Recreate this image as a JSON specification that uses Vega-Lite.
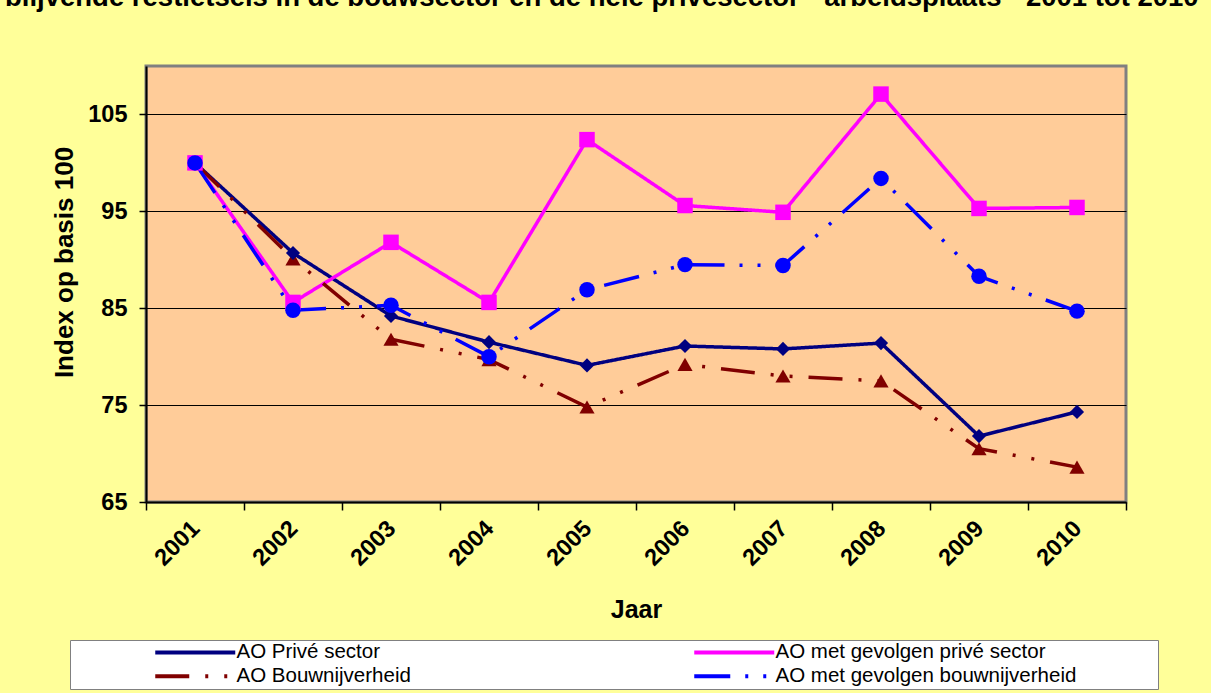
{
  "$schema": "https://vega.github.io/schema/vega-lite/v6.json",
  "autosize": "none",
  "width": 980,
  "height": 436,
  "padding": {"top": 66, "left": 146, "right": 85, "bottom": 191},
  "background": "#FFFF99",
  "title": {
    "text": "blijvende restletsels in de bouwsector en de hele privésector - arbeidsplaats - 2001 tot 2010",
    "anchor": "start",
    "frame": "group",
    "dx": -141,
    "offset": 55,
    "font": "Liberation Sans",
    "fontSize": 27.5,
    "fontWeight": "bold",
    "color": "#000000"
  },
  "config": {
    "view": {"fill": "#FFCC99", "stroke": "#808080", "strokeWidth": 3},
    "font": "Liberation Sans",
    "axis": {
      "domainColor": "#000000",
      "domainWidth": 2,
      "tickColor": "#000000",
      "tickWidth": 1.5,
      "labelColor": "#000000",
      "titleColor": "#000000",
      "labelFont": "Liberation Sans",
      "titleFont": "Liberation Sans",
      "labelFontWeight": "bold",
      "titleFontWeight": "bold"
    }
  },
  "data": {
    "values": [
      {"jaar": "2001", "reeks": "AO Privé sector", "waarde": 100},
      {"jaar": "2002", "reeks": "AO Privé sector", "waarde": 90.7},
      {"jaar": "2003", "reeks": "AO Privé sector", "waarde": 84.2},
      {"jaar": "2004", "reeks": "AO Privé sector", "waarde": 81.5},
      {"jaar": "2005", "reeks": "AO Privé sector", "waarde": 79.1},
      {"jaar": "2006", "reeks": "AO Privé sector", "waarde": 81.1},
      {"jaar": "2007", "reeks": "AO Privé sector", "waarde": 80.8},
      {"jaar": "2008", "reeks": "AO Privé sector", "waarde": 81.4},
      {"jaar": "2009", "reeks": "AO Privé sector", "waarde": 71.8},
      {"jaar": "2010", "reeks": "AO Privé sector", "waarde": 74.3},
      {"jaar": "2001", "reeks": "AO met gevolgen privé sector", "waarde": 100},
      {"jaar": "2002", "reeks": "AO met gevolgen privé sector", "waarde": 85.6},
      {"jaar": "2003", "reeks": "AO met gevolgen privé sector", "waarde": 91.8},
      {"jaar": "2004", "reeks": "AO met gevolgen privé sector", "waarde": 85.6},
      {"jaar": "2005", "reeks": "AO met gevolgen privé sector", "waarde": 102.4},
      {"jaar": "2006", "reeks": "AO met gevolgen privé sector", "waarde": 95.6},
      {"jaar": "2007", "reeks": "AO met gevolgen privé sector", "waarde": 94.9},
      {"jaar": "2008", "reeks": "AO met gevolgen privé sector", "waarde": 107.1},
      {"jaar": "2009", "reeks": "AO met gevolgen privé sector", "waarde": 95.3},
      {"jaar": "2010", "reeks": "AO met gevolgen privé sector", "waarde": 95.4},
      {"jaar": "2001", "reeks": "AO Bouwnijverheid", "waarde": 100},
      {"jaar": "2002", "reeks": "AO Bouwnijverheid", "waarde": 90.1},
      {"jaar": "2003", "reeks": "AO Bouwnijverheid", "waarde": 81.8},
      {"jaar": "2004", "reeks": "AO Bouwnijverheid", "waarde": 79.7},
      {"jaar": "2005", "reeks": "AO Bouwnijverheid", "waarde": 74.8},
      {"jaar": "2006", "reeks": "AO Bouwnijverheid", "waarde": 79.2},
      {"jaar": "2007", "reeks": "AO Bouwnijverheid", "waarde": 78.0},
      {"jaar": "2008", "reeks": "AO Bouwnijverheid", "waarde": 77.5},
      {"jaar": "2009", "reeks": "AO Bouwnijverheid", "waarde": 70.5},
      {"jaar": "2010", "reeks": "AO Bouwnijverheid", "waarde": 68.6},
      {"jaar": "2001", "reeks": "AO met gevolgen bouwnijverheid", "waarde": 100},
      {"jaar": "2002", "reeks": "AO met gevolgen bouwnijverheid", "waarde": 84.8},
      {"jaar": "2003", "reeks": "AO met gevolgen bouwnijverheid", "waarde": 85.3},
      {"jaar": "2004", "reeks": "AO met gevolgen bouwnijverheid", "waarde": 80.0},
      {"jaar": "2005", "reeks": "AO met gevolgen bouwnijverheid", "waarde": 86.9},
      {"jaar": "2006", "reeks": "AO met gevolgen bouwnijverheid", "waarde": 89.5},
      {"jaar": "2007", "reeks": "AO met gevolgen bouwnijverheid", "waarde": 89.4},
      {"jaar": "2008", "reeks": "AO met gevolgen bouwnijverheid", "waarde": 98.4},
      {"jaar": "2009", "reeks": "AO met gevolgen bouwnijverheid", "waarde": 88.3},
      {"jaar": "2010", "reeks": "AO met gevolgen bouwnijverheid", "waarde": 84.7}
    ]
  },
  "encoding": {
    "x": {
      "field": "jaar",
      "type": "ordinal",
      "scale": {"paddingInner": 0, "paddingOuter": 0},
      "axis": {
        "title": "Jaar",
        "titleFontSize": 25,
        "titlePadding": 28,
        "labelFontSize": 23.5,
        "labelAngle": -45,
        "labelPadding": 6,
        "labelOffset": -8,
        "tickBand": "extent",
        "tickSize": 8,
        "grid": false
      }
    },
    "y": {
      "field": "waarde",
      "type": "quantitative",
      "scale": {"domain": [65, 110], "nice": false, "zero": false},
      "axis": {
        "title": "Index op basis 100",
        "titleFontSize": 26,
        "titlePadding": 10,
        "titleY": 196,
        "labelFontSize": 23.5,
        "labelPadding": 12,
        "tickSize": 7,
        "values": [65, 75, 85, 95, 105],
        "grid": true,
        "gridColor": "#000000",
        "gridWidth": 1.2,
        "gridOpacity": 1
      }
    }
  },
  "layer": [
    {
      "mark": {"type": "line", "strokeWidth": 3.5},
      "encoding": {
        "color": {
          "field": "reeks",
          "type": "nominal",
          "scale": {
            "domain": ["AO Privé sector", "AO met gevolgen privé sector", "AO Bouwnijverheid", "AO met gevolgen bouwnijverheid"],
            "range": ["#000080", "#FF00FF", "#800000", "#0000FF"]
          },
          "legend": {
            "title": " ",
            "titleOrient": "right",
            "titlePadding": 80,
            "orient": "none",
            "direction": "horizontal",
            "legendX": -76,
            "legendY": 574,
            "columns": 2,
            "columnPadding": 200,
            "rowPadding": 3,
            "padding": 2,
            "fillColor": "#FFFFFF",
            "strokeColor": "#808080",
            "labelFont": "Liberation Sans",
            "labelFontSize": 20.5,
            "labelColor": "#000000",
            "labelLimit": 500,
            "symbolType": "M-8,0H8",
            "symbolSize": 100,
            "symbolStrokeWidth": 4,
            "symbolOffset": 113,
            "labelOffset": 31
          }
        },
        "strokeDash": {
          "field": "reeks",
          "type": "nominal",
          "scale": {
            "domain": ["AO Privé sector", "AO met gevolgen privé sector", "AO Bouwnijverheid", "AO met gevolgen bouwnijverheid"],
            "range": [[1, 0], [1, 0], [34, 16, 3, 16, 3, 16], [36, 15, 3, 15, 3, 15]]
          },
          "legend": {
            "title": " ",
            "titleOrient": "right",
            "titlePadding": 80,
            "orient": "none",
            "direction": "horizontal",
            "legendX": -76,
            "legendY": 574,
            "columns": 2,
            "columnPadding": 200,
            "rowPadding": 3,
            "padding": 2,
            "fillColor": "#FFFFFF",
            "strokeColor": "#808080",
            "labelFont": "Liberation Sans",
            "labelFontSize": 20.5,
            "labelColor": "#000000",
            "labelLimit": 500,
            "symbolType": "M-8,0H8",
            "symbolSize": 100,
            "symbolStrokeWidth": 4,
            "symbolOffset": 113,
            "labelOffset": 31
          }
        }
      }
    },
    {
      "transform": [{"filter": "datum.reeks == 'AO Bouwnijverheid'"}],
      "mark": {"type": "point", "filled": true, "opacity": 1, "strokeWidth": 0, "shape": "triangle-up", "size": 230, "color": "#800000"}
    },
    {
      "transform": [{"filter": "datum.reeks == 'AO Privé sector'"}],
      "mark": {"type": "point", "filled": true, "opacity": 1, "strokeWidth": 0, "shape": "diamond", "size": 200, "color": "#000080"}
    },
    {
      "transform": [{"filter": "datum.reeks == 'AO met gevolgen privé sector'"}],
      "mark": {"type": "point", "filled": true, "opacity": 1, "strokeWidth": 0, "shape": "square", "size": 240, "color": "#FF00FF"}
    },
    {
      "transform": [{"filter": "datum.reeks == 'AO met gevolgen bouwnijverheid'"}],
      "mark": {"type": "point", "filled": true, "opacity": 1, "strokeWidth": 0, "shape": "circle", "size": 240, "color": "#0000FF"}
    }
  ]
}
